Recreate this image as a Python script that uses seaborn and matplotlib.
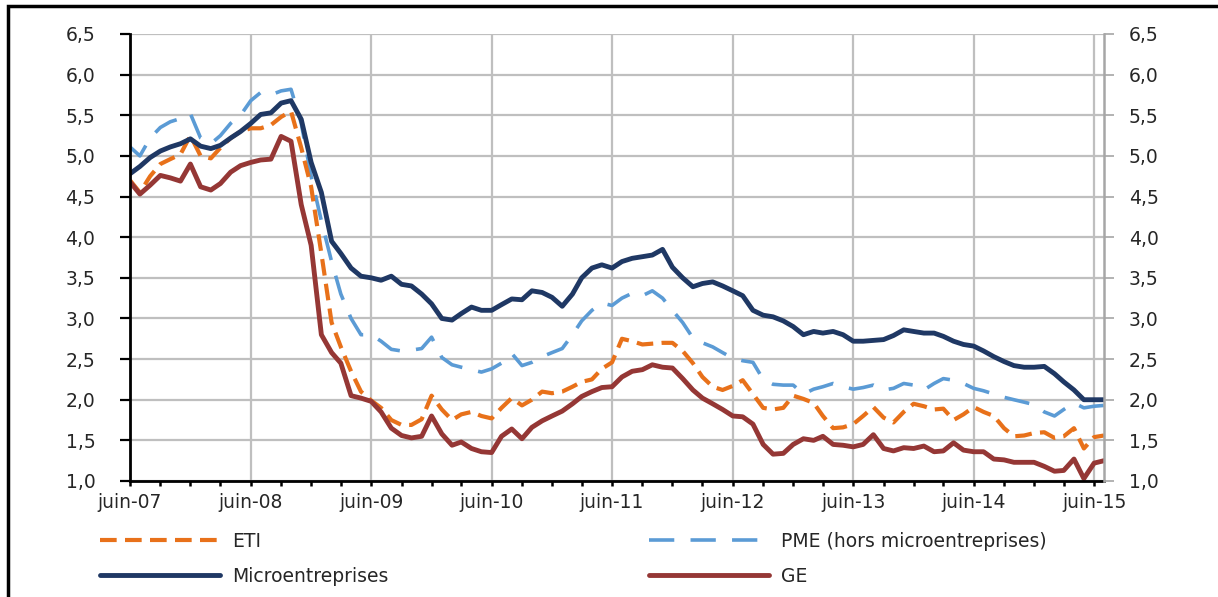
import matplotlib
matplotlib.use("Agg")

import matplotlib.pyplot as plt
import matplotlib.dates as mdates
from matplotlib.patches import Rectangle
from matplotlib.ticker import FuncFormatter, MultipleLocator
import seaborn as sns
import pandas as pd

# données mensuelles, juin-07 -> juil-15 (taux en %)
dates = pd.date_range("2007-06-01", "2015-07-01", freq="MS")

eti = [4.70, 4.55, 4.75, 4.90, 4.96, 5.02, 5.25, 5.00, 4.97, 5.10,
       5.22, 5.30, 5.34, 5.34, 5.38, 5.48, 5.55, 5.10, 4.62, 3.80,
       2.95, 2.65, 2.35, 2.10, 1.99, 1.90, 1.75, 1.69, 1.69, 1.76,
       2.05, 1.88, 1.75, 1.82, 1.85, 1.80, 1.77, 1.90, 2.02, 1.93,
       2.00, 2.10, 2.08, 2.10, 2.16, 2.22, 2.25, 2.38, 2.46, 2.75,
       2.72, 2.68, 2.69, 2.70, 2.70, 2.60, 2.45, 2.28, 2.16, 2.12,
       2.17, 2.24, 2.07, 1.90, 1.88, 1.90, 2.05, 2.01, 1.96, 1.80,
       1.65, 1.66, 1.70, 1.80, 1.91, 1.78, 1.72, 1.85, 1.95, 1.92,
       1.88, 1.89, 1.75, 1.82, 1.91, 1.85, 1.80, 1.65, 1.55, 1.56,
       1.59, 1.60, 1.53, 1.55, 1.65, 1.40, 1.54, 1.56]

pme = [5.11, 5.00, 5.22, 5.35, 5.42, 5.46, 5.52, 5.22, 5.15, 5.25,
       5.40, 5.50, 5.68, 5.78, 5.75, 5.80, 5.82, 5.40, 4.75, 4.20,
       3.70, 3.30, 3.00, 2.80, 2.80, 2.72, 2.62, 2.60, 2.61, 2.63,
       2.77, 2.52, 2.43, 2.40, 2.37, 2.34, 2.38, 2.45, 2.57, 2.42,
       2.46, 2.53, 2.58, 2.63, 2.80, 2.97, 3.10, 3.19, 3.16, 3.25,
       3.31, 3.28, 3.34, 3.25, 3.10, 2.95, 2.76, 2.70, 2.65, 2.58,
       2.51, 2.48, 2.46, 2.25, 2.19, 2.18, 2.18, 2.07, 2.13, 2.16,
       2.20, 2.16, 2.13, 2.15, 2.18, 2.12, 2.14, 2.20, 2.18, 2.12,
       2.20, 2.26, 2.24, 2.20, 2.14, 2.11, 2.07, 2.03, 2.00, 1.97,
       1.94, 1.85, 1.80, 1.88, 1.96, 1.90, 1.92, 1.93]

micro = [4.78, 4.87, 4.98, 5.06, 5.11, 5.15, 5.21, 5.12, 5.09, 5.13,
         5.22, 5.30, 5.40, 5.51, 5.53, 5.65, 5.68, 5.45, 4.92, 4.55,
         3.95, 3.80, 3.62, 3.52, 3.50, 3.47, 3.52, 3.42, 3.40, 3.30,
         3.18, 3.00, 2.98, 3.06, 3.14, 3.10, 3.10, 3.17, 3.24, 3.23,
         3.34, 3.32, 3.26, 3.15, 3.30, 3.50, 3.62, 3.66, 3.62, 3.70,
         3.74, 3.76, 3.78, 3.85, 3.63, 3.50, 3.39, 3.43, 3.45, 3.40,
         3.34, 3.28, 3.10, 3.04, 3.02, 2.97, 2.90, 2.80, 2.84, 2.82,
         2.84, 2.80, 2.72, 2.72, 2.73, 2.74, 2.79, 2.86, 2.84, 2.82,
         2.82, 2.78, 2.72, 2.68, 2.66, 2.60, 2.53, 2.47, 2.42, 2.40,
         2.40, 2.41, 2.32, 2.22, 2.12, 2.00, 2.00, 2.00]

ge = [4.68, 4.53, 4.64, 4.76, 4.73, 4.69, 4.90, 4.62, 4.58, 4.66,
      4.80, 4.88, 4.92, 4.95, 4.96, 5.24, 5.18, 4.40, 3.90, 2.80,
      2.58, 2.45, 2.05, 2.02, 1.98, 1.85, 1.65, 1.56, 1.53, 1.55,
      1.80, 1.58, 1.44, 1.48, 1.40, 1.36, 1.35, 1.55, 1.64, 1.52,
      1.66, 1.74, 1.80, 1.86, 1.95, 2.04, 2.10, 2.15, 2.16, 2.28,
      2.35, 2.37, 2.43, 2.40, 2.39, 2.26, 2.12, 2.02, 1.95, 1.88,
      1.80, 1.79, 1.70, 1.45, 1.33, 1.34, 1.45, 1.52, 1.50, 1.55,
      1.45, 1.44, 1.42, 1.45, 1.57, 1.40, 1.37, 1.41, 1.40, 1.43,
      1.36, 1.37, 1.47, 1.38, 1.36, 1.36, 1.27, 1.26, 1.23, 1.23,
      1.23, 1.18, 1.12, 1.13, 1.27, 1.03, 1.22, 1.25]

MOIS = ["janv", "févr", "mars", "avr", "mai", "juin",
        "juil", "août", "sept", "oct", "nov", "déc"]

FS = 13.5

sns.set_style("white")
plt.rcParams["font.family"] = ["DejaVu Sans"]

W, H = 1218, 597
fig = plt.figure(figsize=(W / 100, H / 100), dpi=100)
ax = fig.add_axes([130 / W, 1 - 481 / H, (1104 - 130) / W, (481 - 34) / H])

grid_c = "#BFBFBF"
ax.grid(False)
ax.yaxis.grid(True, color=grid_c, linewidth=1.6)
ax.xaxis.grid(True, which="major", color=grid_c, linewidth=1.6)

sns.lineplot(x=dates, y=pme, ax=ax, color="#5B9BD5", linewidth=2.6,
             linestyle=(0, (7, 4.5)), label="PME (hors microentreprises)")
sns.lineplot(x=dates, y=eti, ax=ax, color="#E8711A", linewidth=3.0,
             linestyle=(0, (4, 2)), label="ETI")
sns.lineplot(x=dates, y=ge, ax=ax, color="#953735", linewidth=3.5,
             label="GE")
sns.lineplot(x=dates, y=micro, ax=ax, color="#1F3864", linewidth=3.5,
             label="Microentreprises")

ax.set_xlim(dates[0], dates[-1])
ax.set_ylim(1.0, 6.5)
ax.yaxis.set_major_locator(MultipleLocator(0.5))
virg = FuncFormatter(lambda v, p: f"{v:.1f}".replace(".", ","))
ax.yaxis.set_major_formatter(virg)

ax.xaxis.set_major_locator(mdates.MonthLocator(bymonth=6))
ax.xaxis.set_minor_locator(mdates.MonthLocator(bymonth=[3, 9, 12]))
ax.xaxis.set_major_formatter(FuncFormatter(
    lambda v, p: f"{MOIS[mdates.num2date(v).month - 1]}-{mdates.num2date(v).year % 100:02d}"))
ax.set_xlabel("")
ax.set_ylabel("")

for s in ["top", "right"]:
    ax.spines[s].set_visible(False)
for s in ["left", "bottom"]:
    ax.spines[s].set_color("black")
    ax.spines[s].set_linewidth(2.0)

ax.tick_params(axis="y", which="major", direction="out", length=7, width=1.6,
               color="black", labelsize=FS, pad=18, left=True)
ax.tick_params(axis="x", which="both", direction="out", length=3.8, width=1.8,
               color="black", labelsize=FS, pad=5, bottom=True)

# axe de droite (mêmes valeurs)
ax2 = ax.twinx()
ax2.set_ylim(ax.get_ylim())
ax2.yaxis.set_major_locator(MultipleLocator(0.5))
ax2.yaxis.set_major_formatter(virg)
ax2.grid(False)
for s in ["top", "left", "bottom"]:
    ax2.spines[s].set_visible(False)
ax2.spines["right"].set_color("#A6A6A6")
ax2.spines["right"].set_linewidth(1.8)
ax2.tick_params(axis="y", direction="out", length=7, width=1.2,
                color="#A6A6A6", labelsize=FS, pad=11, right=True)

# légende en deux colonnes sous le graphique
ax.get_legend().remove()
hd = {l.get_label(): l for l in ax.get_lines()}
order = ["ETI", "Microentreprises", "PME (hors microentreprises)", "GE"]
fig.legend([hd[k] for k in order], order, ncol=2, loc="upper left",
           bbox_to_anchor=(100 / W, 1 - 532 / H), frameon=False,
           fontsize=FS, handlelength=6.4, handletextpad=0.64,
           columnspacing=13.9, labelspacing=0.84, borderpad=0,
           borderaxespad=0)

# cadre noir autour de la figure
fig.patches.append(Rectangle((8 / W, -0.2), 1.2, 1.2 - 6 / H,
                             transform=fig.transFigure, fill=False,
                             edgecolor="black", linewidth=2.5, clip_on=False))

fig.savefig("out.png", dpi=100)
plt.close(fig)
